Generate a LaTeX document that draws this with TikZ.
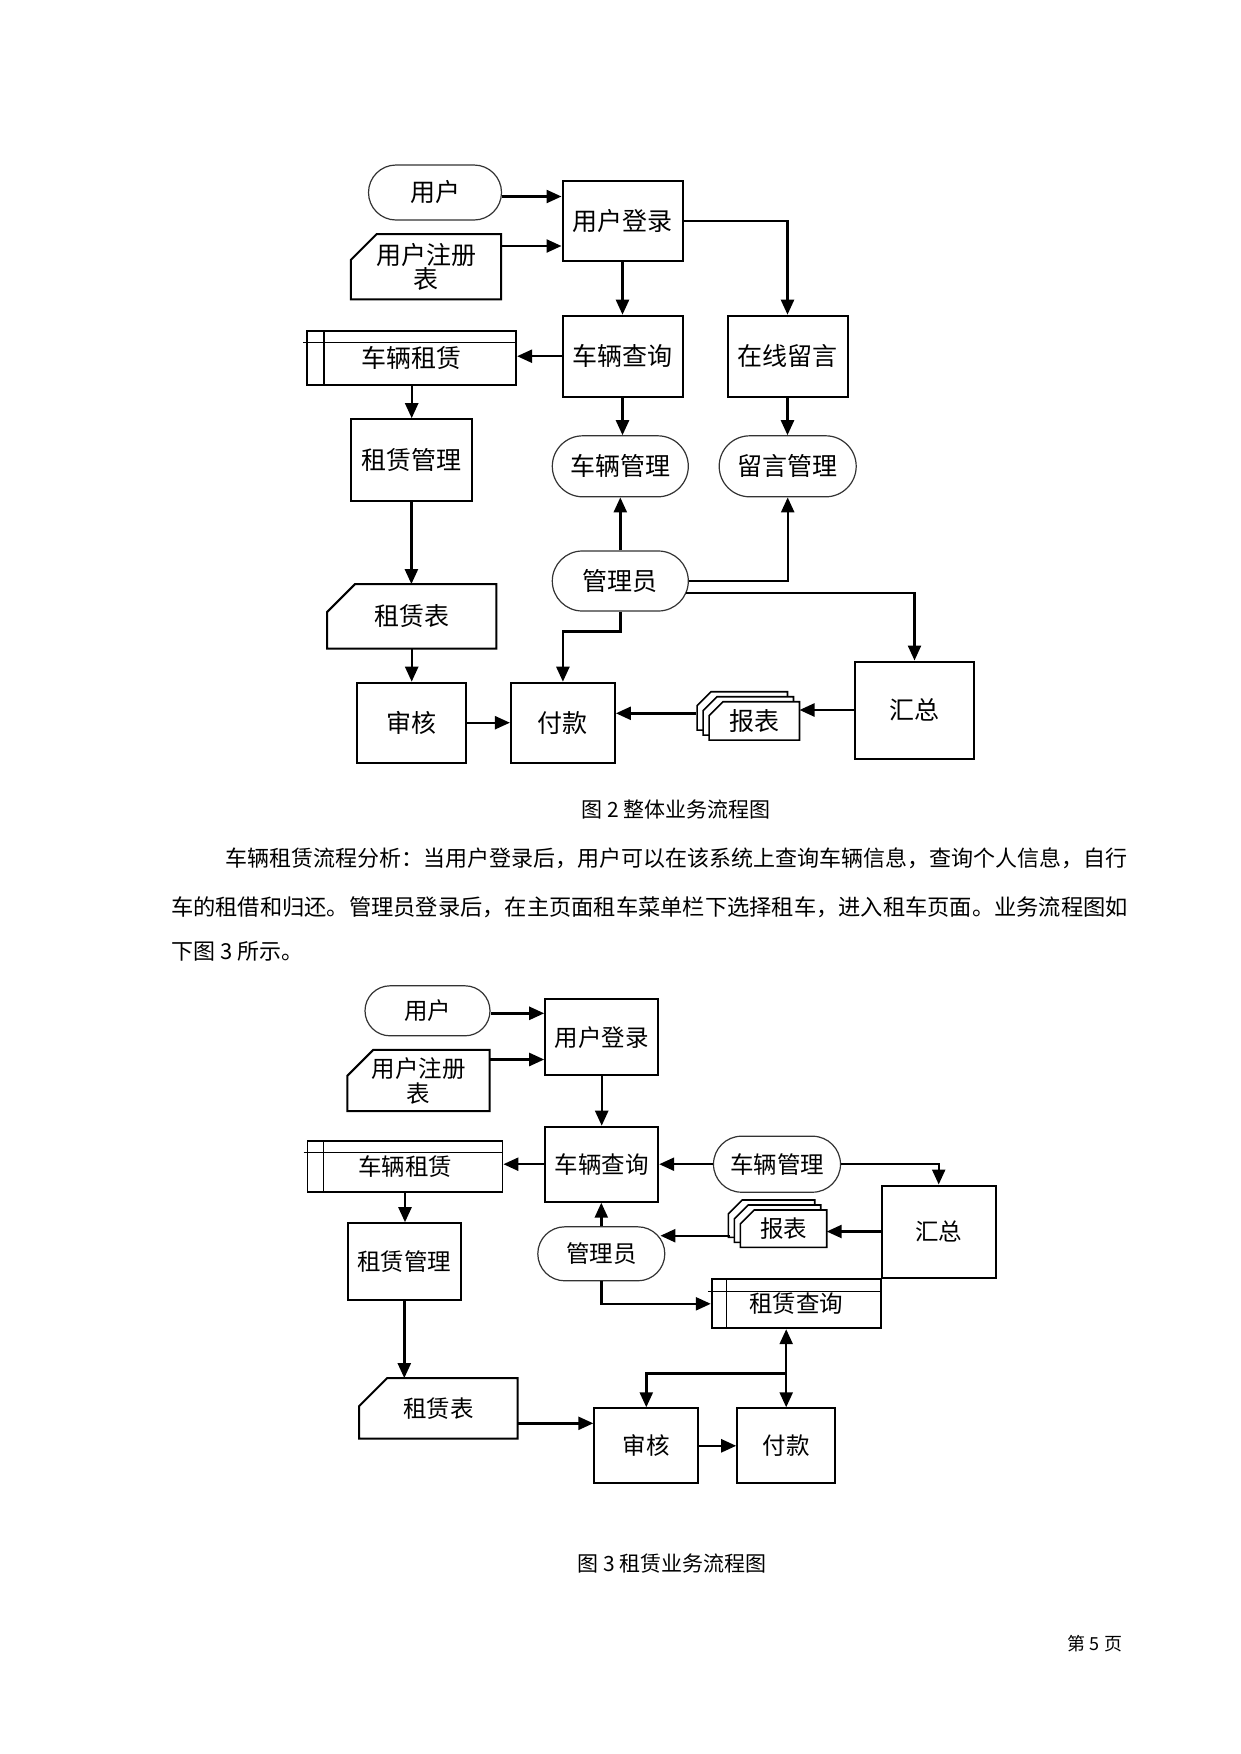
\documentclass[tikz,border=0pt]{standalone}
\usepackage{fontspec}
\newfontfamily\zhfont{Noto Sans CJK SC}
\usetikzlibrary{arrows.meta, positioning, calc, shapes.misc, backgrounds}

\tikzset{
  procnode/.style = {rectangle, draw=black, line width=2pt, inner sep=0pt},
  termnode/.style = {rounded rectangle, draw=black!80, line width=1.2pt, inner sep=0pt},
  cardnode/.style = {rectangle, inner sep=0pt, align=center},
  docnode/.style  = {rectangle, inner sep=0pt},
  subnode/.style  = {rectangle, draw=black, line width=1.8pt, inner sep=0pt},
  flow/.style     = {line width=2.4pt, -{Triangle[length=15pt,width=13pt]}},
  bodytext/.style = {inner sep=0pt, anchor=west}
}
% cut-corner card round a node
\newcommand{\cardframe}[2]{%
  \draw[line width=2pt] ([xshift=#2]#1.north west) -- (#1.north east) -- (#1.south east)
    -- (#1.south west) -- ([yshift=-#2]#1.north west) -- cycle;}
% predefined box: left bar and top line
\newcommand{\subframe}[3]{%
  \draw[line width=1.3pt] ([xshift=#2]#1.north west) -- ([xshift=#2]#1.south west);
  \draw[line width=1.3pt] ([xshift=-3pt,yshift=-#3]#1.north west) -- ([yshift=-#3]#1.north east);}
% stack of three cards behind a node
\newcommand{\docframe}[1]{%
  \begin{pgfonlayer}{background}
    \foreach \k in {2,1,0}{
      \draw[line width=1.6pt, fill=white]
        ([xshift={14-6*\k}, yshift={5*\k}]#1.north west) -- ([xshift={-6*\k}, yshift={5*\k}]#1.north east)
        -- ([xshift={-6*\k}, yshift={5*\k}]#1.south east) -- ([xshift={-6*\k}, yshift={5*\k}]#1.south west)
        -- ([xshift={-6*\k}, yshift={5*\k-14}]#1.north west) -- cycle;
    }
  \end{pgfonlayer}}

\begin{document}
\begin{tikzpicture}[x=1pt, y=-1pt, font=\zhfont]
\begin{scope}[on background layer]
  \fill[white] (0,0) rectangle (1240,1754);
\end{scope}
\useasboundingbox (0,0) rectangle (1240,1754);

% Figure 2
\begin{scope}[font=\zhfont\fontsize{25}{24}\selectfont]
\node[termnode, minimum width=133pt, minimum height=55pt] (usr1) at (435,192.5) {用户};
\node[procnode, minimum width=120pt, minimum height=80pt] (login1) at (622.5,220.7) {用户登录};
\node[cardnode, minimum width=150pt, minimum height=65pt] (reg1) at (426,266.7) {用户注册\\表};
\node[procnode, minimum width=120pt, minimum height=81pt] (query1) at (622.5,356.2) {车辆查询};
\node[procnode, minimum width=120pt, minimum height=81pt] (msg1) at (787.5,356.2) {在线留言};
\node[subnode, minimum width=209pt, minimum height=54pt] (rent1) at (411.7,358) {车辆租赁};
\node[procnode, minimum width=121pt, minimum height=82pt] (rmgr1) at (411.4,460.2) {租赁管理};
\node[termnode, minimum width=136pt, minimum height=61pt] (vmgr1) at (620.3,466.3) {车辆管理};
\node[termnode, minimum width=137pt, minimum height=61pt] (mmgr1) at (787.7,466.3) {留言管理};
\node[termnode, minimum width=136pt, minimum height=60pt] (admin1) at (620.3,581) {管理员};
\node[cardnode, minimum width=169pt, minimum height=64pt] (rtab1) at (411.7,616.3) {租赁表};
\node[procnode, minimum width=109pt, minimum height=80pt] (audit1) at (411.7,722.7) {审核};
\node[procnode, minimum width=104pt, minimum height=80pt] (pay1) at (562.9,722.7) {付款};
\node[procnode, minimum width=119pt, minimum height=97pt] (sum1) at (914.5,710) {汇总};
\node[docnode, minimum width=90pt, minimum height=38pt] (rep1) at (754.3,720.9) {报表};
\end{scope}
\cardframe{reg1}{26pt}
\cardframe{rtab1}{28pt}
\subframe{rent1}{17.7pt}{12.3pt}
\docframe{rep1}

\draw[flow] ([yshift=-4pt]usr1.east) -- ([yshift=-4pt]usr1.east -| login1.west);
\draw[flow] ([yshift=20.7pt]reg1.east) -- ([yshift=20.7pt]reg1.east -| login1.west);
\draw[flow] (login1.south) -- (query1.north);
\draw[flow] (login1.east) -| (msg1.north);
\draw[flow] (query1.west) -- (query1.west -| rent1.east);
\draw[flow] (rent1.south) -- (rent1.south |- rmgr1.north);
\draw[flow] (query1.south) -- (query1.south |- vmgr1.north);
\draw[flow] (msg1.south) -- (msg1.south |- mmgr1.north);
\draw[flow] (rmgr1.south) -- (rmgr1.south |- rtab1.north);
\draw[flow] (rtab1.south) -- (rtab1.south |- audit1.north);
\draw[flow] (audit1.east) -- (audit1.east -| pay1.west);
\draw[flow] (admin1.north) -- (admin1.north |- vmgr1.south);
\draw[flow] (admin1.east) -| (mmgr1.south);
\draw[flow] ([xshift=-3pt,yshift=-12pt]admin1.east) -| (sum1.north);
\draw[flow] (admin1.south) -- ++(0,20) -| (pay1.north);
\draw[flow] (sum1.west) -- (sum1.west -| rep1.east);
\coordinate (rp1) at ([xshift=-13pt,yshift=7.6pt]rep1.west);
\draw[flow] (rp1) -- (rp1 -| pay1.east);

% text between the figures
\node[font=\zhfont\fontsize{21}{24}\selectfont] (cap2) at (676,809) {图 2 整体业务流程图};
\node[bodytext, font=\zhfont\fontsize{22}{24}\selectfont] (par1) at (225,858)
  {车辆租赁流程分析：当用户登录后，用户可以在该系统上查询车辆信息，查询个人信息，自行};
\node[bodytext, font=\zhfont\fontsize{22.25}{24}\selectfont] (par2) at (171,907)
  {车的租借和归还。管理员登录后，在主页面租车菜单栏下选择租车，进入租车页面。业务流程图如};
\node[bodytext, font=\zhfont\fontsize{22}{24}\selectfont] (par3) at (171,951) {下图 3 所示。};

% Figure 3
\begin{scope}[font=\zhfont\fontsize{23.5}{25}\selectfont]
\node[termnode, minimum width=125pt, minimum height=50pt] (usr2) at (427.5,1010.8) {用户};
\node[procnode, minimum width=113pt, minimum height=76pt] (login2) at (601.7,1037.2) {用户登录};
\node[cardnode, minimum width=142pt, minimum height=61pt] (reg2) at (418.5,1080.5) {用户注册\\表};
\node[procnode, minimum width=113pt, minimum height=75pt] (query2) at (601.7,1164.2) {车辆查询};
\node[subnode, minimum width=195pt, minimum height=51pt] (rent2) at (405,1166.7) {车辆租赁};
\node[termnode, minimum width=127pt, minimum height=56pt] (vmgr2) at (777,1164.2) {车辆管理};
\node[procnode, minimum width=114pt, minimum height=92pt] (sum2) at (938.7,1231.5) {汇总};
\node[docnode, minimum width=86pt, minimum height=37pt] (rep2) at (783.5,1228.7) {报表};
\node[termnode, minimum width=127pt, minimum height=54pt] (admin2) at (601.3,1253.8) {管理员};
\node[subnode, minimum width=169pt, minimum height=49pt] (rquery2) at (796.2,1303.8) {租赁查询};
\node[procnode, minimum width=113pt, minimum height=77pt] (rmgr2) at (404.3,1261.7) {租赁管理};
\node[cardnode, minimum width=158pt, minimum height=60pt] (rtab2) at (438.3,1408.3) {租赁表};
\node[procnode, minimum width=104pt, minimum height=75pt] (audit2) at (646.3,1445.8) {审核};
\node[procnode, minimum width=98pt, minimum height=75pt] (pay2) at (786.2,1445.8) {付款};
\end{scope}
\cardframe{reg2}{26pt}
\cardframe{rtab2}{28pt}
\subframe{rent2}{17pt}{12pt}
\subframe{rquery2}{15.6pt}{13pt}
\docframe{rep2}

\draw[flow] ([yshift=-2.5pt]usr2.east) -- ([yshift=-2.5pt]usr2.east -| login2.west);
\draw[flow] ([yshift=21pt]reg2.east) -- ([yshift=21pt]reg2.east -| login2.west);
\draw[flow] (login2.south) -- (query2.north);
\draw[flow] (query2.west) -- (query2.west -| rent2.east);
\draw[flow] (vmgr2.west) -- (vmgr2.west -| query2.east);
\draw[flow] (vmgr2.east) -| (sum2.north);
\draw[flow] (rent2.south) -- (rent2.south |- rmgr2.north);
\draw[flow] (admin2.north) -- (admin2.north |- query2.south);
\draw[flow] (sum2.west) -- (sum2.west -| rep2.east);
\coordinate (rp2) at ([xshift=-10pt,yshift=-7pt]rep2.west);
\draw[flow] (rp2) -- ([xshift=-5pt]rp2 -| admin2.east);
\draw[flow] (admin2.south) |- (rquery2.west);
\draw[flow] (rmgr2.south) -- (rmgr2.south |- rtab2.north);
\draw[flow] ([yshift=-15pt]rtab2.east) -- ([yshift=-15pt]rtab2.east -| audit2.west);
\draw[flow] (audit2.east) -- (audit2.east -| pay2.west);
\draw[flow, {Triangle[length=15pt,width=13pt]}-{Triangle[length=15pt,width=13pt]}]
  (pay2.north |- rquery2.south) -- (pay2.north);
\draw[flow] ([yshift=34pt]pay2.north) -| (audit2.north);

\node[font=\zhfont\fontsize{21}{24}\selectfont] (cap3) at (672,1564) {图 3 租赁业务流程图};
\node[font=\zhfont\fontsize{18}{20}\selectfont] (pgno) at (1095,1644) {第 5 页};
\end{tikzpicture}
\end{document}
